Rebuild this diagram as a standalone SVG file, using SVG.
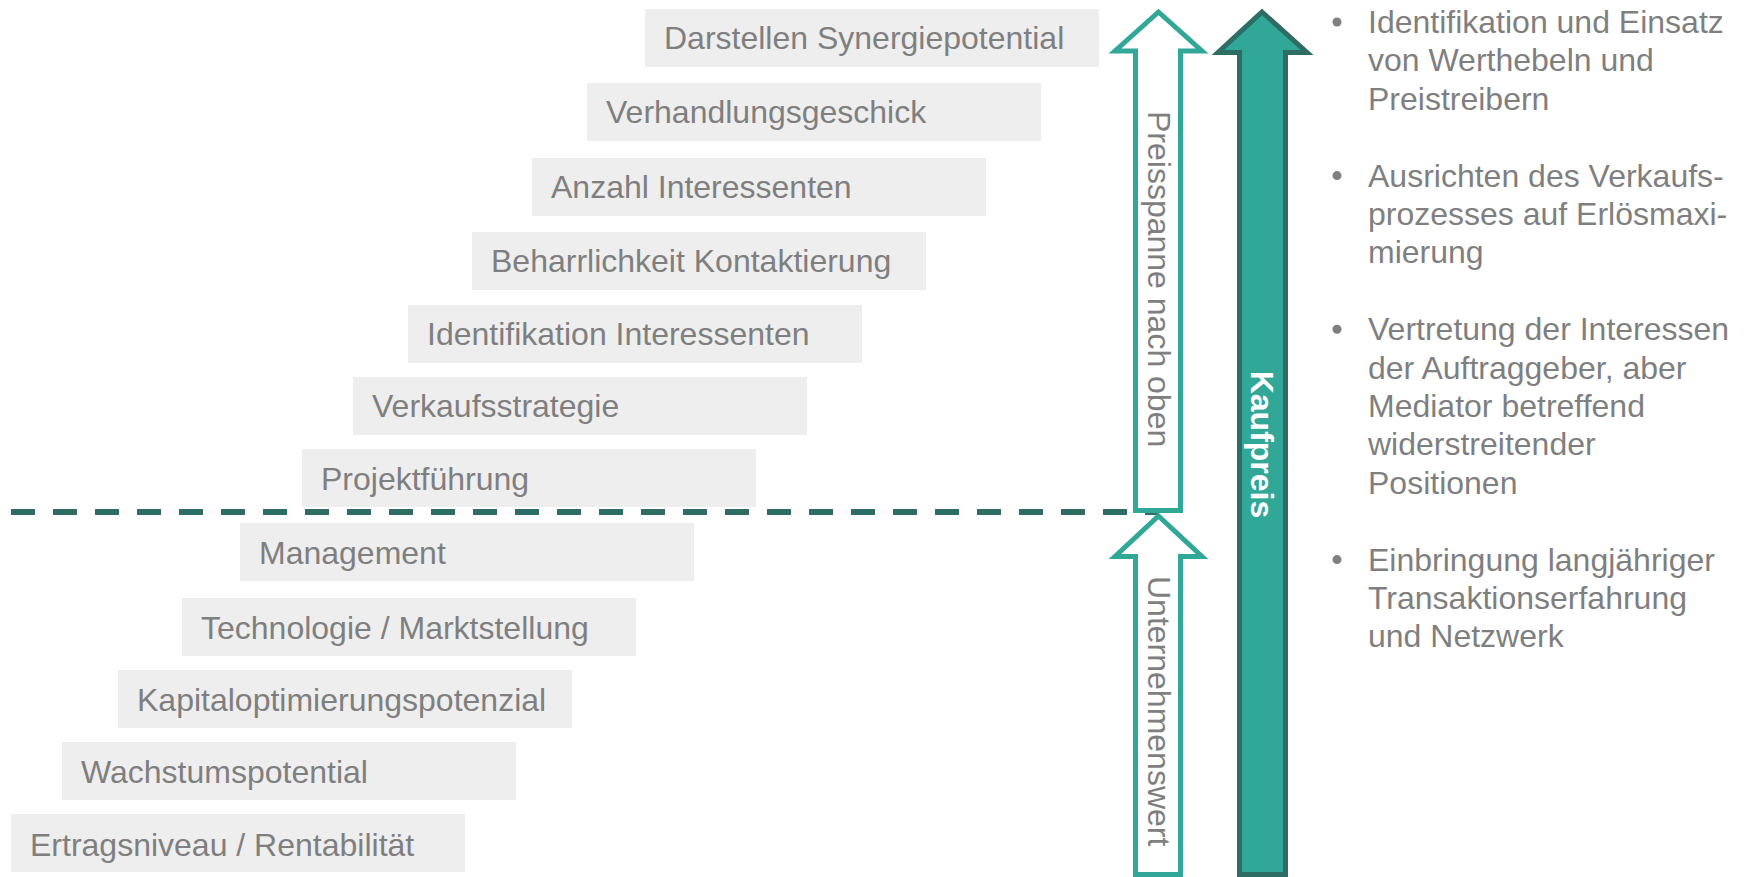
<svg xmlns="http://www.w3.org/2000/svg" width="1744" height="877" viewBox="0 0 1744 877">
<style>
.box{fill:#eeeeee}
.t{font-family:"Liberation Sans",Arial,sans-serif;font-size:32px;fill:#7f7f7f}
.kp{font-family:"Liberation Sans",Arial,sans-serif;font-size:32px;font-weight:bold;fill:#ffffff}
.outline{fill:#ffffff;stroke:#31a797;stroke-width:5;stroke-linejoin:miter}
.filled{fill:#31a797;stroke:#2d6d64;stroke-width:5;stroke-linejoin:miter}
.dash{stroke:#2d6d64;stroke-width:6;stroke-dasharray:24 18;fill:none}
.dot{fill:#7f7f7f}
</style>
<rect width="1744" height="877" fill="#ffffff"/>
<g id="factors">
<g id="n1"><rect class="box" x="645" y="9" width="454" height="58"/><text class="t" x="664" y="49">Darstellen Synergiepotential</text></g>
<g id="n2"><rect class="box" x="587" y="83" width="454" height="58"/><text class="t" x="606" y="123">Verhandlungsgeschick</text></g>
<g id="n3"><rect class="box" x="532" y="158" width="454" height="58"/><text class="t" x="551" y="198">Anzahl Interessenten</text></g>
<g id="n4"><rect class="box" x="472" y="232" width="454" height="58"/><text class="t" x="491" y="272">Beharrlichkeit Kontaktierung</text></g>
<g id="n5"><rect class="box" x="408" y="305" width="454" height="58"/><text class="t" x="427" y="345">Identifikation Interessenten</text></g>
<g id="n6"><rect class="box" x="353" y="377" width="454" height="58"/><text class="t" x="372" y="417">Verkaufsstrategie</text></g>
<g id="n7"><rect class="box" x="302" y="449" width="454" height="58"/><text class="t" x="321" y="490">Projektführung</text></g>
<g id="n8"><rect class="box" x="240" y="523" width="454" height="58"/><text class="t" x="259" y="564">Management</text></g>
<g id="n9"><rect class="box" x="182" y="598" width="454" height="58"/><text class="t" x="201" y="639">Technologie / Marktstellung</text></g>
<g id="n10"><rect class="box" x="118" y="670" width="454" height="58"/><text class="t" x="137" y="711">Kapitaloptimierungspotenzial</text></g>
<g id="n11"><rect class="box" x="62" y="742" width="454" height="58"/><text class="t" x="81" y="783">Wachstumspotential</text></g>
<g id="n12"><rect class="box" x="11" y="814" width="454" height="58"/><text class="t" x="30" y="856">Ertragsniveau / Rentabilität</text></g>
</g>
<g id="connectors">
<line class="dash" x1="11" y1="512" x2="1158" y2="512"/>
</g>
<g id="arrow-preisspanne">
<polygon class="outline" points="1158.5,12 1202,51 1180.5,51 1180.5,510.5 1135.5,510.5 1135.5,51 1115,51"/>
<text class="t" transform="translate(1148,111) rotate(90)">Preisspanne nach oben</text>
</g>
<g id="arrow-unternehmenswert">
<polygon class="outline" points="1158.5,516 1202,556.5 1180.5,556.5 1180.5,874.5 1135.5,874.5 1135.5,556.5 1115,556.5"/>
<text class="t" transform="translate(1148,576) rotate(90)">Unternehmenswert</text>
</g>
<g id="arrow-kaufpreis">
<polygon class="filled" points="1262,12 1307,52.5 1285.5,52.5 1285.5,874.5 1239.5,874.5 1239.5,52.5 1218,52.5"/>
<text class="kp" transform="translate(1251,444.5) rotate(90)" text-anchor="middle">Kaufpreis</text>
</g>
<g id="bullets">
<circle class="dot" cx="1337" cy="22" r="4.5"/>
<text class="t" x="1368" y="33">Identifikation und Einsatz</text>
<text class="t" x="1368" y="71.4">von Werthebeln und</text>
<text class="t" x="1368" y="109.8">Preistreibern</text>
<circle class="dot" cx="1337" cy="175.6" r="4.5"/>
<text class="t" x="1368" y="186.6">Ausrichten des Verkaufs-</text>
<text class="t" x="1368" y="225">prozesses auf Erlösmaxi-</text>
<text class="t" x="1368" y="263.4">mierung</text>
<circle class="dot" cx="1337" cy="329.2" r="4.5"/>
<text class="t" x="1368" y="340.2">Vertretung der Interessen</text>
<text class="t" x="1368" y="378.6">der Auftraggeber, aber</text>
<text class="t" x="1368" y="417">Mediator betreffend</text>
<text class="t" x="1368" y="455.4">widerstreitender</text>
<text class="t" x="1368" y="493.8">Positionen</text>
<circle class="dot" cx="1337" cy="559.6" r="4.5"/>
<text class="t" x="1368" y="570.6">Einbringung langjähriger</text>
<text class="t" x="1368" y="609">Transaktionserfahrung</text>
<text class="t" x="1368" y="647.4">und Netzwerk</text>
</g>
</svg>
